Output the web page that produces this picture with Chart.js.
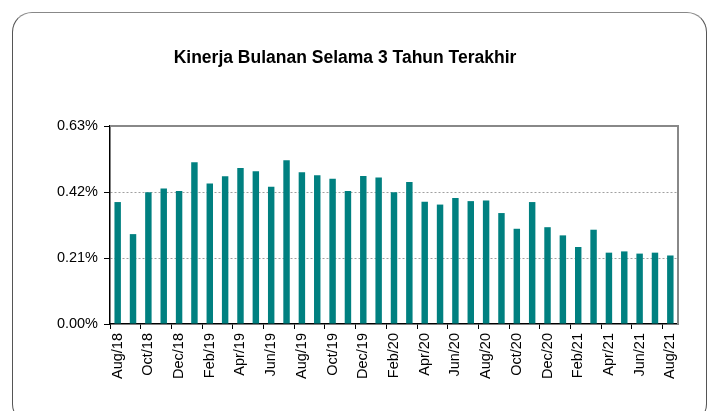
<!DOCTYPE html>
<html>
<head>
<meta charset="utf-8">
<script src="https://cdn.jsdelivr.net/npm/chart.js@4.4.0/dist/chart.umd.min.js"></script>
<style>
  body { margin: 0; background: #fff; }
  #wrap { position: relative; width: 713px; height: 411px; overflow: hidden; }
  #frame {
    position: absolute; left: 12px; top: 12px; width: 693px; height: 410px;
    border: 1.5px solid #555; border-top-color: #888; border-radius: 20px;
  }
  #chart { position: absolute; left: 0; top: 0; }
</style>
</head>
<body>
<div id="wrap">
  <div id="frame"></div>
  <canvas id="chart" width="713" height="411"></canvas>
</div>
<script>
// monthly performance, in hundredths of a percent
const months = [
  "Aug/18", "Sep/18", "Oct/18", "Nov/18", "Dec/18", "Jan/19", "Feb/19", "Mar/19", "Apr/19", "May/19",
  "Jun/19", "Jul/19", "Aug/19", "Sep/19", "Oct/19", "Nov/19", "Dec/19", "Jan/20", "Feb/20", "Mar/20",
  "Apr/20", "May/20", "Jun/20", "Jul/20", "Aug/20", "Sep/20", "Oct/20", "Nov/20", "Dec/20", "Jan/21",
  "Feb/21", "Mar/21", "Apr/21", "May/21", "Jun/21", "Jul/21", "Aug/21"
];
const returns = [
  38.8, 28.6, 41.9, 43.1, 42.3, 51.5, 44.7, 47.0, 49.6, 48.6,
  43.7, 52.1, 48.3, 47.3, 46.2, 42.3, 47.1, 46.6, 41.9, 45.2,
  38.9, 38.0, 40.1, 39.1, 39.3, 35.3, 30.3, 38.8, 30.8, 28.2,
  24.5, 30.0, 22.7, 23.1, 22.4, 22.7, 21.8
];
const yTicks = [0, 21, 42, 63];

const fontFamily = "'Liberation Sans', Arial, sans-serif";

// gray frame on top and right of the plot area
const plotFrame = {
  id: "plotFrame",
  afterDraw(chart) {
    const { ctx, chartArea: a } = chart;
    ctx.save();
    ctx.strokeStyle = "#888";
    ctx.lineWidth = 2;
    ctx.beginPath();
    ctx.moveTo(a.left, a.top);
    ctx.lineTo(a.right, a.top);
    ctx.lineTo(a.right, a.bottom);
    ctx.stroke();
    ctx.restore();
  }
};

new Chart(document.getElementById("chart"), {
  type: "bar",
  data: {
    labels: months,
    datasets: [{
      data: returns,
      backgroundColor: "#008080",
      categoryPercentage: 1,
      barPercentage: 0.42
    }]
  },
  options: {
    responsive: false,
    animation: false,
    layout: { padding: { left: 12, right: 35, top: 0, bottom: 0 } },
    plugins: {
      legend: { display: false },
      tooltip: { enabled: false },
      title: {
        display: true,
        text: "Kinerja Bulanan Selama 3 Tahun Terakhir",
        color: "#000",
        font: { family: fontFamily, size: 17.5, weight: "bold" },
        padding: { top: 48, bottom: 57 }
      }
    },
    scales: {
      x: {
        grid: {
          offset: true,
          drawOnChartArea: false,
          tickLength: 5,
          tickColor: c => (c.index % 2 === 0 ? "#000" : "rgba(0,0,0,0)")
        },
        border: { color: "#000", width: 1.5 },
        ticks: {
          autoSkip: false,
          minRotation: 90,
          maxRotation: 90,
          padding: 4,
          color: "#000",
          font: { family: fontFamily, size: 14.5 },
          callback: function (v, i) { return i % 2 === 0 ? months[i] : ""; }
        },
        afterFit(scale) { scale.height = 87; }
      },
      y: {
        min: yTicks[0],
        max: yTicks[yTicks.length - 1],
        afterBuildTicks(scale) { scale.ticks = yTicks.map(v => ({ value: v })); },
        grid: {
          color: c => (c.index === 1 || c.index === 2 ? "#a0a0a0" : "rgba(0,0,0,0)"),
          tickColor: "#000",
          tickLength: 6,
          lineWidth: 1
        },
        border: { color: "#000", width: 1.5, dash: [2, 2] },
        ticks: {
          padding: 6,
          color: "#000",
          font: { family: fontFamily, size: 14.5 },
          callback: v => (v / 100).toFixed(2) + "%"
        },
        afterFit(scale) { scale.width = 98; }
      }
    }
  },
  plugins: [plotFrame]
});
</script>
</body>
</html>
